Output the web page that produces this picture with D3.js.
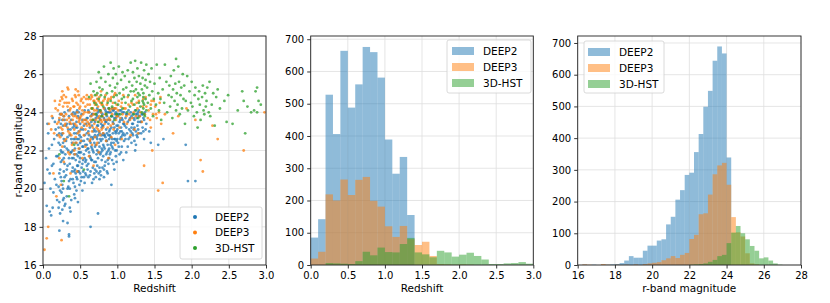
<!DOCTYPE html>
<html>
<head>
<meta charset="utf-8">
<script src="https://cdn.jsdelivr.net/npm/d3@7"></script>
<style>
body { margin: 0; background: #fff; }
text { font-family: "DejaVu Sans", sans-serif; fill: #000; }
</style>
</head>
<body>
<div id="viz-container"></div>
<script>
// ---- data ----
const seriesNames = ["DEEP2", "DEEP3", "3D-HST"];
const seriesColors = ["#1f77b4", "#ff7f0e", "#2ca02c"];

// redshift histogram, bins of 0.1 starting at z = 0
const zBinWidth = 0.1;
const zCountDEEP2 = [85, 142, 528, 406, 664, 488, 560, 676, 660, 581, 389, 283, 335, 155];
const zCountDEEP3 = [20, 41, 219, 200, 265, 217, 264, 273, 199, 181, 120, 87, 121, 80, 62, 72, 28, 3, 2, 1, 2, 1];
const zCount3DHST = [0, 0, 6, 5, 4, 3, 12, 41, 30, 54, 40, 39, 65, 84, 39, 33, 24, 44, 39, 26, 32, 38, 28, 17, 3, 3, 5, 6, 9, 4];

// r-band magnitude histogram, bins of 0.25
const magBinWidth = 0.25;
const magStartDEEP2 = 16, magStartDEEP3 = 16, magStart3DHST = 22;
const magCountDEEP2 = [0, 1, 0, 1, 0, 1, 1, 2, 3, 6, 14, 28, 23, 23, 45, 61, 61, 77, 81, 128,
  152, 206, 236, 284, 291, 356, 413, 499, 549, 644, 689, 667, 339];
const magCountDEEP3 = [0, 2, 1, 0, 0, 3, 1, 0, 1, 0, 1, 0, 2, 0, 3, 5, 7, 9, 15, 21,
  28, 22, 32, 38, 82, 95, 160, 163, 222, 286, 314, 322, 253, 151, 103, 90, 37, 5, 2];
const magCount3DHST = [1, 2, 3, 5, 10, 16, 28, 32, 69, 102, 123, 100, 81, 60, 45, 21, 24, 14, 5, 1];

// scatter: [redshift, r-band magnitude]
const pointsDEEP2 = [
[0.02,20.3],[0.04,21.6],[0.05,19.1],[0.06,23.4],[0.08,22.1],[0.09,20.8],
[0.11,18.6],[0.12,21.2],[0.13,23.7],[0.14,19.8],[0.15,22.6],[0.16,20.5],[0.17,23.1],[0.18,21.7],[0.19,19.4],
[0.21,20.1],[0.21,22.4],[0.22,19.3],[0.22,23.6],[0.23,21.0],[0.23,18.7],[0.24,22.0],[0.24,20.6],[0.25,23.9],[0.25,19.8],
[0.26,21.5],[0.26,22.9],[0.26,20.2],[0.27,18.3],[0.27,21.9],[0.27,23.3],[0.28,19.5],[0.28,20.9],[0.28,22.6],[0.29,21.3],
[0.29,24.0],[0.29,19.1],[0.24,21.4],[0.22,22.9],[0.25,20.4],[0.27,20.0],[0.28,23.8],[0.23,19.9],[0.26,18.9],[0.29,22.2],
[0.31,20.7],[0.31,22.5],[0.32,19.6],[0.32,23.4],[0.33,21.2],[0.33,18.2],[0.34,22.0],[0.34,20.1],[0.35,23.8],[0.35,21.6],
[0.35,17.6],[0.36,19.0],[0.36,22.8],[0.37,20.5],[0.37,23.1],[0.38,21.9],[0.38,19.4],[0.39,22.4],[0.39,20.9],[0.34,24.1],
[0.36,21.3],[0.38,23.6],[0.33,20.0],[0.37,18.8],
[0.40,21.1],[0.40,23.2],[0.41,20.3],[0.41,22.6],[0.42,21.8],[0.42,19.7],[0.43,23.9],[0.43,22.1],[0.44,20.8],[0.44,21.5],
[0.45,23.5],[0.45,19.9],[0.45,22.9],[0.46,21.2],[0.46,20.5],[0.46,24.1],[0.47,22.3],[0.47,21.7],[0.47,19.3],[0.48,23.0],
[0.48,20.9],[0.48,22.6],[0.49,21.4],[0.49,23.7],[0.49,20.2],[0.41,24.0],[0.43,21.0],[0.44,22.4],[0.42,23.3],[0.46,23.2],
[0.48,21.9],[0.45,20.6],[0.40,22.0],[0.47,23.8],[0.43,20.1],[0.49,22.1],
[0.50,21.6],[0.50,23.4],[0.51,20.4],[0.51,22.7],[0.52,21.1],[0.52,23.9],[0.53,22.2],[0.53,19.9],[0.54,20.9],[0.54,23.1],
[0.55,21.8],[0.55,22.5],[0.56,20.3],[0.56,24.1],[0.57,21.4],[0.57,23.6],[0.58,22.0],[0.58,20.7],[0.59,22.9],[0.59,21.2],
[0.52,22.5],[0.55,20.6],[0.57,22.3],[0.54,21.5],[0.58,23.4],[0.51,21.9],
[0.60,22.1],[0.60,23.7],[0.61,21.3],[0.61,20.6],[0.62,22.8],[0.62,24.0],[0.63,21.7],[0.63,23.2],[0.64,18.0],[0.64,22.4],
[0.64,20.9],[0.65,23.5],[0.65,21.5],[0.66,22.1],[0.66,20.3],[0.67,23.9],[0.67,22.6],[0.67,21.1],[0.68,23.0],[0.68,21.9],
[0.69,22.4],[0.69,20.8],[0.69,23.6],[0.62,21.9],[0.63,22.5],[0.66,23.3],[0.68,20.5],[0.60,21.0],[0.65,22.7],[0.61,23.0],
[0.70,22.2],[0.70,23.5],[0.71,21.4],[0.71,23.0],[0.72,22.7],[0.72,20.9],[0.73,23.8],[0.73,22.0],[0.74,18.7],[0.74,21.6],
[0.74,23.3],[0.75,22.4],[0.75,24.1],[0.76,21.1],[0.76,22.9],[0.77,23.6],[0.77,21.8],[0.78,22.5],[0.78,20.7],[0.79,23.2],
[0.79,22.1],[0.71,22.3],[0.72,23.9],[0.73,21.2],[0.75,21.9],[0.76,23.7],[0.77,22.6],[0.78,24.0],[0.79,21.5],[0.70,21.0],
[0.74,22.8],[0.76,20.5],[0.78,23.4],[0.73,24.2],
[0.80,22.6],[0.80,23.9],[0.81,21.7],[0.81,23.3],[0.82,22.2],[0.82,21.0],[0.83,23.6],[0.83,22.8],[0.84,21.4],[0.84,24.1],
[0.85,22.5],[0.85,23.1],[0.86,21.9],[0.86,23.8],[0.87,22.3],[0.87,20.8],[0.88,23.4],[0.88,22.0],[0.89,23.0],[0.89,21.6],
[0.81,22.9],[0.83,21.2],[0.84,22.7],[0.86,22.9],[0.87,24.0],[0.88,21.3],[0.89,22.6],[0.80,21.1],[0.82,23.7],[0.85,21.8],
[0.86,20.9],[0.88,24.2],[0.83,24.2],
[0.90,22.8],[0.90,23.6],[0.91,21.9],[0.91,24.0],[0.92,22.4],[0.92,23.2],[0.93,21.5],[0.93,23.8],[0.94,22.9],[0.94,22.1],
[0.95,23.4],[0.95,21.3],[0.96,22.6],[0.96,24.2],[0.97,23.0],[0.97,22.0],[0.98,23.7],[0.98,21.7],[0.99,22.5],[0.99,23.3],
[0.91,22.7],[0.93,22.2],[0.95,24.1],[0.96,21.0],[0.97,23.9],[0.98,22.9],[0.92,20.2],[0.94,23.5],[0.99,21.4],
[1.00,23.1],[1.01,22.4],[1.01,23.8],[1.02,22.9],[1.03,23.5],[1.03,21.8],[1.04,22.6],[1.05,24.1],[1.05,23.2],[1.06,22.2],
[1.06,23.7],[1.07,22.8],[1.08,23.4],[1.08,21.5],[1.09,22.5],[1.09,24.0],[1.02,23.9],[1.04,23.0],[1.07,23.6],
[1.10,23.3],[1.11,22.6],[1.12,23.9],[1.13,22.9],[1.14,23.5],[1.14,22.2],[1.15,24.1],[1.16,23.1],[1.17,22.7],[1.17,23.7],
[1.18,23.0],[1.19,22.4],[1.19,23.8],[1.12,21.9],
[1.20,23.4],[1.21,22.8],[1.21,23.9],[1.22,23.1],[1.23,22.5],[1.23,23.6],[1.24,24.1],[1.25,23.0],[1.25,22.3],[1.26,23.7],
[1.27,23.3],[1.27,22.7],[1.28,24.0],[1.28,23.5],[1.29,22.9],[1.29,23.8],[1.24,22.0],
[1.31,23.5],[1.32,22.9],[1.33,23.9],[1.34,23.2],[1.35,23.7],[1.36,22.6],[1.37,24.0],[1.39,23.4],
[1.45,22.4],[1.55,22.3],[1.62,22.6],[1.92,22.3],[1.95,20.4],[2.05,20.4],[1.43,23.0],[0.22,17.8],[0.35,17.5],
[0.06,21.0],[0.07,22.9],[0.10,20.0],[0.12,22.3],[0.14,21.3],[0.16,23.5],[0.18,20.2],[0.19,22.8],[0.09,18.8],[0.13,19.0],
[0.20,21.7],[0.21,23.2],[0.22,20.8],[0.23,22.3],[0.24,23.4],[0.25,21.9],[0.26,23.6],[0.27,22.4],[0.28,21.6],[0.29,20.6],
[0.21,19.0],[0.23,23.9],[0.25,22.8],[0.27,19.4],[0.29,23.6],
[0.30,21.8],[0.31,23.3],[0.32,21.0],[0.33,22.7],[0.34,23.1],[0.35,20.4],[0.36,23.4],[0.37,21.9],[0.38,22.6],[0.39,23.9],
[0.30,19.2],[0.32,22.1],[0.36,20.0],[0.39,21.6],
[0.40,20.5],[0.41,21.6],[0.42,22.9],[0.43,22.6],[0.44,23.2],[0.45,21.8],[0.46,22.6],[0.47,20.9],[0.48,24.0],[0.49,22.8],
[0.41,23.4],[0.43,19.5],[0.45,24.0],[0.47,21.2],[0.49,21.9],[0.42,20.9],
[0.50,22.4],[0.51,23.1],[0.52,20.6],[0.53,23.6],[0.54,22.2],[0.55,23.3],[0.56,21.6],[0.57,20.8],[0.58,21.5],[0.59,23.7],
[0.50,20.8],[0.53,21.3],[0.56,22.8],[0.59,22.3],
[0.60,22.6],[0.61,22.1],[0.62,23.4],[0.63,20.7],[0.64,23.8],[0.65,22.2],[0.66,21.5],[0.67,22.0],[0.68,22.7],[0.69,21.4],
[0.61,24.1],[0.64,21.6],[0.66,23.9],[0.69,23.1],
[0.70,22.8],[0.71,23.7],[0.72,21.8],[0.73,22.6],[0.74,24.0],[0.75,23.0],[0.76,22.2],[0.77,20.9],[0.78,21.9],[0.79,22.8],
[0.71,20.6],[0.73,23.3],[0.75,20.8],[0.77,24.1],[0.79,23.8],
[0.80,23.3],[0.81,22.3],[0.82,22.8],[0.83,22.1],[0.84,23.5],[0.85,24.0],[0.86,22.5],[0.87,23.6],[0.88,22.8],[0.89,24.0],
[0.80,22.0],[0.82,20.6],[0.85,23.5],[0.87,21.5],[0.89,22.1],
[0.90,23.1],[0.91,22.3],[0.92,23.8],[0.93,22.6],[0.94,24.1],[0.95,22.4],[0.96,23.2],[0.97,22.6],[0.98,24.0],[0.99,23.0],
[0.90,21.8],[0.93,24.2],[0.96,23.7],[0.99,22.0],
[1.00,22.6],[1.01,23.3],[1.02,22.2],[1.03,24.1],[1.04,23.6],[1.05,22.7],[1.06,23.0],[1.07,24.0],[1.08,22.9],[1.09,23.4],
[1.00,23.9],[1.05,21.9],
[1.10,22.8],[1.11,23.7],[1.12,23.2],[1.13,23.9],[1.15,22.6],[1.16,23.6],[1.18,24.0],[1.19,23.2],
[1.20,22.9],[1.22,23.7],[1.23,23.2],[1.25,23.9],[1.26,22.8],[1.28,23.1],[1.29,24.1],[1.21,23.4],[1.27,23.9],
[1.30,23.8],[1.32,23.5],[1.34,23.9],[1.35,23.0],[1.36,23.6],[1.38,23.1]
];

const pointsDEEP3 = [
[0.02,16.8],[0.05,17.4],[0.07,18.0],[0.08,23.4],
[0.12,23.8],[0.15,22.9],[0.17,24.2],[0.18,19.6],[0.14,20.8],
[0.21,23.5],[0.22,24.4],[0.23,22.7],[0.24,23.9],[0.25,17.3],[0.25,24.8],[0.26,23.1],[0.26,22.2],[0.27,24.3],[0.27,23.6],
[0.28,21.4],[0.28,24.9],[0.29,23.3],[0.29,22.5],[0.24,20.2],
[0.31,23.9],[0.31,22.6],[0.32,24.5],[0.33,23.2],[0.34,25.2],[0.34,21.9],[0.35,23.7],[0.36,24.1],[0.36,22.9],[0.37,20.8],
[0.38,23.4],[0.39,24.7],[0.39,22.3],
[0.40,23.6],[0.41,24.3],[0.41,22.4],[0.42,23.1],[0.43,24.9],[0.43,21.8],[0.44,23.8],[0.44,22.7],[0.45,24.5],[0.45,23.3],
[0.46,20.9],[0.46,24.0],[0.47,22.9],[0.47,25.1],[0.48,23.5],[0.48,22.1],[0.49,24.2],[0.49,23.0],
[0.50,23.7],[0.51,24.6],[0.51,22.5],[0.52,23.2],[0.53,24.1],[0.53,21.6],[0.54,23.9],[0.55,22.8],[0.55,24.8],[0.56,23.4],
[0.57,24.3],[0.57,22.2],[0.58,23.6],[0.59,24.9],
[0.60,23.5],[0.60,24.4],[0.61,22.9],[0.62,24.0],[0.62,21.7],[0.63,23.3],[0.64,24.7],[0.64,22.6],[0.65,23.8],[0.65,24.9],
[0.66,23.0],[0.66,22.3],[0.67,24.2],[0.67,23.6],[0.68,24.6],[0.68,21.2],[0.69,23.4],[0.69,24.1],
[0.70,23.9],[0.70,22.7],[0.71,24.5],[0.72,23.2],[0.72,24.9],[0.73,22.4],[0.74,23.7],[0.74,24.3],[0.75,21.9],[0.75,23.5],
[0.76,24.8],[0.76,23.0],[0.77,24.1],[0.77,22.8],[0.78,23.6],[0.78,25.1],[0.79,24.4],[0.79,23.1],
[0.80,23.8],[0.81,24.6],[0.81,22.9],[0.82,24.2],[0.83,23.4],[0.84,24.9],[0.85,22.5],[0.85,23.9],[0.86,24.4],[0.87,23.2],
[0.88,24.7],[0.88,21.6],[0.89,23.7],
[0.90,24.1],[0.91,23.3],[0.92,24.8],[0.92,22.7],[0.93,23.9],[0.94,24.5],[0.95,23.1],[0.96,24.2],[0.97,22.3],[0.97,25.0],
[0.98,23.6],[0.99,24.4],
[1.00,23.8],[1.02,24.6],[1.03,23.2],[1.05,24.3],[1.06,22.6],[1.07,23.9],[1.08,24.9],[1.09,23.5],
[1.11,24.2],[1.13,23.4],[1.14,24.8],[1.16,23.9],[1.18,22.8],[1.19,24.5],
[1.20,23.7],[1.21,24.4],[1.23,23.1],[1.24,24.9],[1.25,23.8],[1.27,24.2],[1.28,22.9],[1.29,24.6],
[1.31,24.0],[1.33,23.5],[1.35,24.7],[1.37,23.9],[1.39,24.3],
[1.42,24.1],[1.44,23.6],[1.46,24.6],[1.48,23.9],
[1.51,24.3],[1.53,23.7],[1.55,19.9],[1.57,24.5],[1.59,23.4],
[1.61,20.3],[1.64,23.9],
[1.75,22.9],[1.82,23.8],[2.12,21.5],[2.15,20.9],[2.35,22.6],[2.28,23.3],[2.70,22.0],[2.98,24.0],[1.36,21.2],[1.47,22.0],
[1.93,24.2],[2.05,23.6],
[0.11,23.1],[0.16,24.6],[0.19,23.4],
[0.20,24.1],[0.21,22.8],[0.22,23.7],[0.23,24.6],[0.24,23.2],[0.25,23.9],[0.26,24.7],[0.27,22.9],[0.28,23.8],[0.29,24.5],
[0.26,25.1],[0.22,21.6],
[0.30,23.4],[0.31,24.8],[0.32,23.6],[0.33,24.3],[0.34,23.0],[0.35,24.5],[0.36,23.5],[0.37,24.2],[0.38,22.8],[0.39,23.9],
[0.33,25.3],[0.36,21.8],
[0.40,24.6],[0.41,23.8],[0.42,24.3],[0.43,23.4],[0.44,24.8],[0.45,22.4],[0.46,23.7],[0.47,24.4],[0.48,24.9],[0.49,23.6],
[0.44,25.2],[0.42,22.0],
[0.50,24.3],[0.52,24.7],[0.53,23.5],[0.54,24.5],[0.56,24.0],[0.57,23.1],[0.58,24.7],[0.59,23.3],[0.51,23.8],[0.55,23.6],
[0.60,24.0],[0.61,24.7],[0.62,23.4],[0.63,24.4],[0.64,23.6],[0.65,24.2],[0.66,24.8],[0.67,23.2],[0.68,23.9],[0.69,24.6],
[0.63,22.5],
[0.70,24.4],[0.71,23.6],[0.72,24.1],[0.73,24.7],[0.74,23.1],[0.75,24.6],[0.76,23.8],[0.77,24.5],[0.78,24.0],[0.79,23.5],
[0.72,22.3],
[0.80,24.4],[0.82,23.6],[0.83,24.7],[0.84,23.9],[0.86,23.6],[0.87,24.6],[0.89,24.2],[0.81,23.2],
[0.90,23.6],[0.91,24.7],[0.93,24.2],[0.94,23.4],[0.96,24.9],[0.98,24.2],[0.99,23.8],
[1.01,24.1],[1.04,23.7],[1.06,24.5],[1.09,24.2],[1.12,23.8],[1.15,24.4],[1.17,23.6],
[1.22,24.0],[1.26,24.5],[1.30,23.8],[1.34,24.3],[1.38,24.8],[1.41,23.7],[1.45,24.4],[1.49,24.6],[1.52,23.9],[1.56,24.0],
[1.58,24.8],[1.45,23.2]
];

const points3DHST = [
[0.22,21.8],[0.28,20.4],[0.35,19.6],[0.42,22.3],[0.55,21.0],
[0.62,24.8],[0.64,25.5],[0.66,24.2],[0.67,23.6],[0.68,25.1],[0.69,24.5],
[0.70,24.9],[0.71,23.9],[0.72,25.6],[0.72,24.4],[0.73,25.0],[0.74,23.5],[0.75,24.7],[0.75,26.1],[0.76,25.3],[0.77,24.1],
[0.78,24.9],[0.78,25.8],[0.79,23.8],[0.79,24.5],
[0.80,25.2],[0.81,24.3],[0.82,26.4],[0.83,24.8],[0.84,25.6],[0.85,23.9],[0.86,25.0],[0.87,24.5],[0.88,26.0],[0.89,24.2],
[0.90,25.4],[0.91,24.6],[0.91,26.6],[0.92,23.8],[0.93,25.1],[0.93,24.3],[0.94,25.8],[0.95,24.8],[0.95,26.3],[0.96,23.6],
[0.97,25.3],[0.97,24.5],[0.98,26.0],[0.99,24.9],[0.99,23.9],
[1.00,25.5],[1.01,24.4],[1.02,26.4],[1.03,25.0],[1.04,23.9],[1.05,25.7],[1.06,24.7],[1.07,26.1],[1.07,24.2],[1.08,25.2],
[1.09,24.8],
[1.10,25.9],[1.11,24.5],[1.12,25.3],[1.13,24.0],[1.14,26.2],[1.15,24.9],[1.16,25.6],[1.17,24.3],[1.18,26.6],[1.18,25.1],
[1.19,24.6],
[1.20,25.4],[1.21,24.7],[1.21,26.1],[1.22,23.9],[1.23,25.8],[1.23,24.4],[1.24,26.7],[1.25,25.2],[1.25,24.1],[1.26,25.6],
[1.27,24.8],[1.27,26.3],[1.28,25.0],[1.28,23.7],[1.29,24.5],[1.29,25.9],[1.22,25.1],
[1.30,24.9],[1.31,25.5],[1.31,24.3],[1.32,26.6],[1.33,25.2],[1.33,24.0],[1.34,24.6],[1.34,25.8],[1.35,24.2],[1.35,24.5],
[1.35,24.8],[1.35,25.0],[1.36,24.4],[1.36,26.2],[1.37,25.4],[1.37,23.8],[1.38,24.7],[1.38,25.7],[1.39,24.1],[1.39,26.5],
[1.36,23.9],
[1.40,25.3],[1.41,24.5],[1.42,26.0],[1.43,24.9],[1.44,25.6],[1.45,24.2],[1.46,26.3],[1.47,25.1],[1.48,23.8],[1.49,24.7],
[1.50,25.5],[1.52,24.4],[1.53,26.5],[1.55,25.0],[1.56,24.1],[1.57,25.8],[1.58,24.7],[1.59,23.6],
[1.61,25.2],[1.63,24.5],[1.64,26.5],[1.66,25.6],[1.67,24.0],[1.69,24.9],
[1.70,25.4],[1.71,24.3],[1.72,25.9],[1.73,24.8],[1.74,23.7],[1.75,25.2],[1.76,26.2],[1.77,24.6],[1.78,25.5],[1.79,24.1],
[1.79,26.8],
[1.80,25.0],[1.81,24.4],[1.82,26.4],[1.83,25.6],[1.84,23.9],[1.85,24.9],[1.86,25.3],[1.87,24.2],[1.88,26.0],[1.89,24.7],
[1.90,25.4],[1.91,23.4],[1.92,24.6],[1.94,25.9],[1.95,24.1],[1.97,25.1],[1.99,24.5],
[2.00,25.6],[2.01,24.3],[2.03,23.8],[2.04,24.9],[2.05,25.3],[2.07,24.0],[2.08,23.2],[2.09,24.7],
[2.10,25.1],[2.11,24.4],[2.12,23.6],[2.14,24.8],[2.15,25.4],[2.16,24.1],[2.17,23.9],[2.18,25.0],[2.19,24.3],
[2.20,24.6],[2.21,25.3],[2.23,24.0],[2.24,25.6],[2.25,23.8],[2.27,24.4],[2.29,25.0],
[2.31,23.3],[2.33,24.8],[2.35,25.2],[2.38,24.2],
[2.44,24.6],[2.47,23.5],[2.49,24.9],[2.55,23.4],[2.62,24.1],[2.68,25.1],[2.70,24.6],[2.72,22.9],[2.75,24.3],[2.80,24.0],
[2.84,24.1],[2.86,25.1],[2.88,25.3],[2.90,24.6],[2.93,24.4],[2.88,24.0]
];

const zTicks = [0.0, 0.5, 1.0, 1.5, 2.0, 2.5, 3.0];
const magTicks = [16, 18, 20, 22, 24, 26, 28];
const countTicks = [0, 100, 200, 300, 400, 500, 600, 700];

// ---- drawing ----
let viz = d3.select("#viz-container")
  .append("svg")
  .attr("width", 830)
  .attr("height", 303)
  .style("background", "#fff");

const plotTop = 36, plotBottom = 265;

function grid(x, y, xTicks, yTicks) {
  let g = viz.append("g");
  g.selectAll(".gx").data(xTicks).enter().append("line")
    .attr("x1", d => x(d)).attr("x2", d => x(d))
    .attr("y1", plotTop).attr("y2", plotBottom)
    .attr("stroke", "#dedede").attr("stroke-width", 0.8);
  g.selectAll(".gy").data(yTicks).enter().append("line")
    .attr("x1", x.range()[0]).attr("x2", x.range()[1])
    .attr("y1", d => y(d)).attr("y2", d => y(d))
    .attr("stroke", "#dedede").attr("stroke-width", 0.8);
}

function axes(x, y, xTicks, yTicks, xFmt, xLabel) {
  let xa = viz.append("g").attr("transform", `translate(0,${plotBottom})`)
    .call(d3.axisBottom(x).tickValues(xTicks).tickFormat(xFmt).tickSize(3.5).tickSizeOuter(0));
  let ya = viz.append("g").attr("transform", `translate(${x.range()[0]},0)`)
    .call(d3.axisLeft(y).tickValues(yTicks).tickFormat(d3.format("d")).tickSize(3.5).tickSizeOuter(0));
  [xa, ya].forEach(a => {
    a.select(".domain").remove();
    a.selectAll("text").style("font-size", "10px").attr("fill", "#000");
    a.selectAll("line").attr("stroke", "#000").attr("stroke-width", 0.8);
  });
  viz.append("rect")
    .attr("x", x.range()[0]).attr("y", plotTop)
    .attr("width", x.range()[1] - x.range()[0]).attr("height", plotBottom - plotTop)
    .attr("fill", "none").attr("stroke", "#222").attr("stroke-width", 0.9);
  viz.append("text")
    .attr("x", (x.range()[0] + x.range()[1]) / 2).attr("y", 292)
    .attr("text-anchor", "middle").style("font-size", "10.5px")
    .text(xLabel);
}

function histBars(x, y, counts, start, width, color) {
  let bars = counts.map((c, i) => ({ x0: start + i * width, x1: start + (i + 1) * width, c: c }))
    .filter(b => b.c > 0);
  viz.append("g").selectAll("rect").data(bars).enter().append("rect")
    .attr("x", d => x(d.x0))
    .attr("width", d => x(d.x1) - x(d.x0))
    .attr("y", d => y(d.c))
    .attr("height", d => y(0) - y(d.c))
    .attr("fill", color)
    .attr("fill-opacity", 0.5);
}

function legendPatches(x0, y0, w, h, patchX, textX) {
  let g = viz.append("g");
  g.append("rect").attr("x", x0).attr("y", y0).attr("width", w).attr("height", h)
    .attr("rx", 2).attr("fill", "#fff").attr("fill-opacity", 0.8)
    .attr("stroke", "#d0d0d0").attr("stroke-width", 0.8);
  seriesNames.forEach((n, i) => {
    let cy = y0 + 11 + i * 16;
    g.append("rect").attr("x", patchX).attr("y", cy - 4).attr("width", 22).attr("height", 8)
      .attr("fill", seriesColors[i]).attr("fill-opacity", 0.5);
    g.append("text").attr("x", textX).attr("y", cy + 3.8).style("font-size", "10.5px").text(n);
  });
}

// panel 1: scatter
let x1 = d3.scaleLinear().domain([0, 3]).range([43, 266]);
let y1 = d3.scaleLinear().domain([16, 28]).range([plotBottom, plotTop]);
grid(x1, y1, zTicks, magTicks);
viz.append("clipPath").attr("id", "clip1").append("rect")
  .attr("x", 43).attr("y", plotTop).attr("width", 223).attr("height", plotBottom - plotTop);
let sc = viz.append("g").attr("clip-path", "url(#clip1)");
[pointsDEEP2, pointsDEEP3, points3DHST].forEach((pts, i) => {
  sc.append("g").selectAll("circle").data(pts).enter().append("circle")
    .attr("cx", d => x1(d[0]))
    .attr("cy", d => y1(d[1]))
    .attr("r", 1.4)
    .attr("fill", seriesColors[i])
    .attr("fill-opacity", 0.75);
});
axes(x1, y1, zTicks, magTicks, d3.format(".1f"), "Redshift");
viz.append("text")
  .attr("transform", "translate(22,150.5) rotate(-90)")
  .attr("text-anchor", "middle").style("font-size", "10.5px")
  .text("r-band magnitude");
// scatter legend
let lg = viz.append("g");
lg.append("rect").attr("x", 180).attr("y", 207).attr("width", 82).attr("height", 52)
  .attr("rx", 2).attr("fill", "#fff").attr("fill-opacity", 0.8)
  .attr("stroke", "#d0d0d0").attr("stroke-width", 0.8);
seriesNames.forEach((n, i) => {
  let cy = 217 + i * 15.5;
  lg.append("circle").attr("cx", 195).attr("cy", cy).attr("r", 2).attr("fill", seriesColors[i]);
  lg.append("text").attr("x", 215).attr("y", cy + 3.8).style("font-size", "10.5px").text(n);
});

// panel 2: redshift histogram
let x2 = d3.scaleLinear().domain([0, 3]).range([310.7, 533.3]);
let y2 = d3.scaleLinear().domain([0, 710]).range([plotBottom, plotTop]);
grid(x2, y2, zTicks, countTicks);
histBars(x2, y2, zCountDEEP2, 0, zBinWidth, seriesColors[0]);
histBars(x2, y2, zCountDEEP3, 0, zBinWidth, seriesColors[1]);
histBars(x2, y2, zCount3DHST, 0, zBinWidth, seriesColors[2]);
axes(x2, y2, zTicks, countTicks, d3.format(".1f"), "Redshift");
legendPatches(447, 40, 84, 53, 452, 483);

// panel 3: magnitude histogram
let x3 = d3.scaleLinear().domain([16, 28]).range([577.7, 801]);
let y3 = d3.scaleLinear().domain([0, 722]).range([plotBottom, plotTop]);
grid(x3, y3, magTicks, countTicks);
histBars(x3, y3, magCountDEEP2, magStartDEEP2, magBinWidth, seriesColors[0]);
histBars(x3, y3, magCountDEEP3, magStartDEEP3, magBinWidth, seriesColors[1]);
histBars(x3, y3, magCount3DHST, magStart3DHST, magBinWidth, seriesColors[2]);
axes(x3, y3, magTicks, countTicks, d3.format("d"), "r-band magnitude");
legendPatches(584, 41, 80, 52, 588, 619);
</script>
</body>
</html>
